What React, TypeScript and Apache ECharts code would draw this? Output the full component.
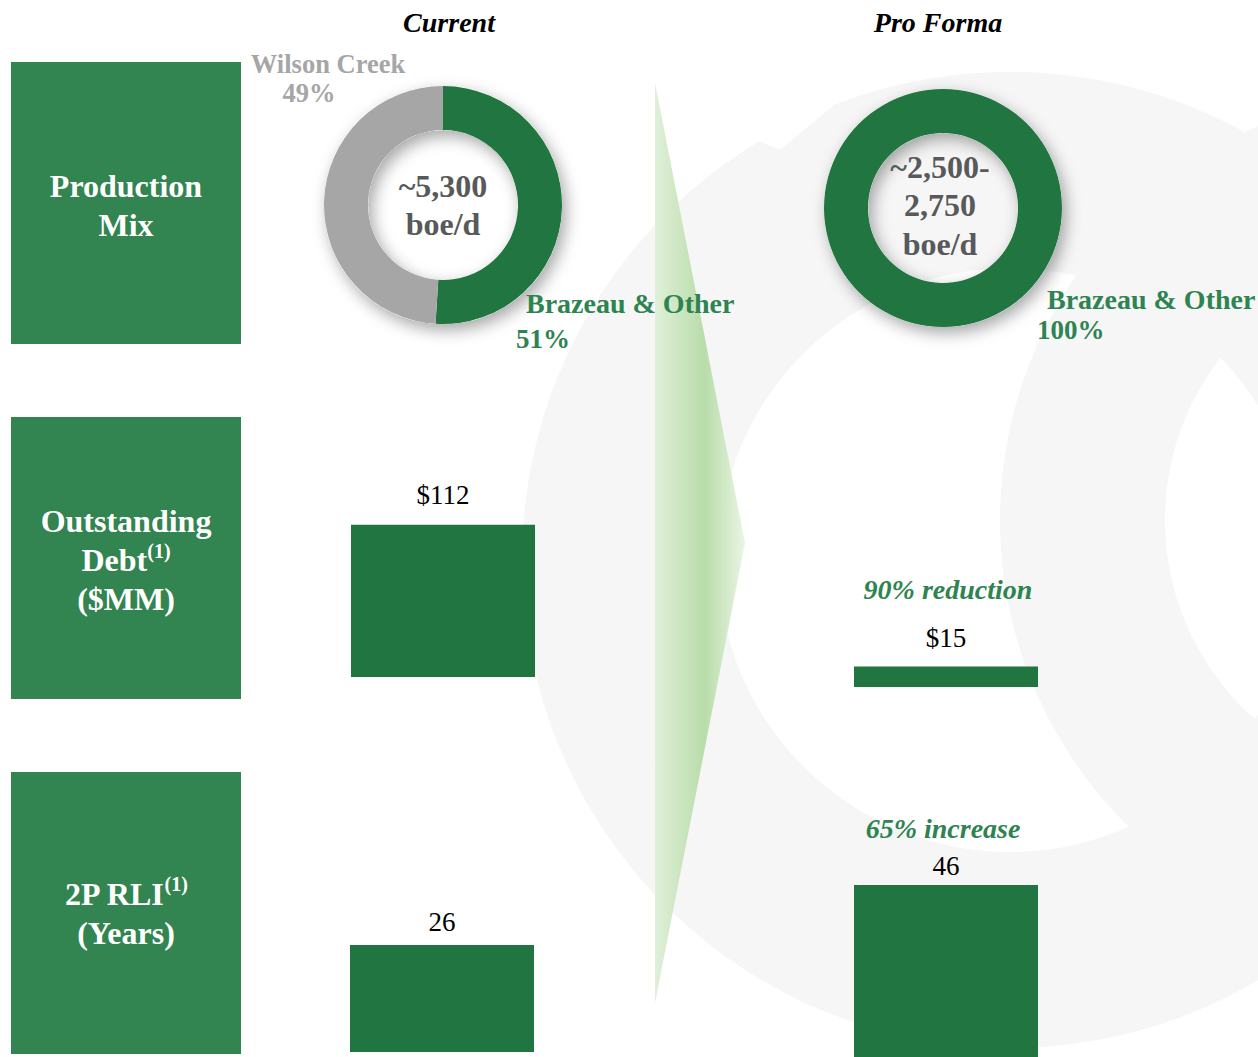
import React, { useEffect, useRef } from "react";
import * as echarts from "echarts";

// ---- data ----
const headers = ["Current", "Pro Forma"];
const rowLabels = ["Production\nMix", "Outstanding\nDebt{sup|(1)}\n($MM)", "2P RLI{sup|(1)}\n(Years)"];
const mixNames = ["Brazeau & Other", "Wilson Creek"];
const mixCurrent = [51, 49];
const mixProForma = [100, 0];
const productionLabels = ["~5,300\nboe/d", "~2,500-\n2,750\nboe/d"];
const debtValues = [112, 15];
const rliValues = [26, 46];
const changeLabels = ["90% reduction", "65% increase"];

const W = 1258;
const H = 1057;
const SERIF = "'Liberation Serif', 'Times New Roman', serif";
const DARK = "#217541";
const BOX = "#328450";
const TXTGREEN = "#2E8450";
const GRAY = "#A6A6A6";
const CENTERGRAY = "#58595B";

export default function App() {
  const ref = useRef<HTMLDivElement>(null);
  useEffect(() => {
    if (!ref.current) return;
    const chart = echarts.init(ref.current, null, { renderer: "svg", width: W, height: H });

    const debtScale = 1.36;
    const rliScale = 4.12;
    const debtMax = 120;
    const rliMax = 50;
    const barDefs = [
      { left: 351, base: 677, max: debtMax, scale: debtScale, v: debtValues[0], fmt: (c: number) => "$" + c, dist: 16 },
      { left: 854, base: 687, max: debtMax, scale: debtScale, v: debtValues[1], fmt: (c: number) => "$" + c, dist: 15 },
      { left: 350, base: 1052, max: rliMax, scale: rliScale, v: rliValues[0], fmt: (c: number) => "" + c, dist: 9 },
      { left: 854, base: 1076, max: rliMax, scale: rliScale, v: rliValues[1], fmt: (c: number) => "" + c, dist: 5 },
    ];

    const grids = barDefs.map((b) => ({
      left: b.left,
      width: 184,
      top: b.base - b.max * b.scale,
      height: b.max * b.scale,
      containLabel: false,
    }));
    const xAxes = barDefs.map((b, i) => ({
      type: "category",
      gridIndex: i,
      data: [headers[i % 2]],
      show: false,
    }));
    const yAxes = barDefs.map((b, i) => ({
      type: "value",
      gridIndex: i,
      min: 0,
      max: b.max,
      show: false,
    }));
    const barSeries = barDefs.map((b, i) => ({
      type: "bar",
      xAxisIndex: i,
      yAxisIndex: i,
      data: [b.v],
      barWidth: 184,
      silent: true,
      itemStyle: { color: DARK },
      label: {
        show: true,
        position: "top",
        distance: b.dist,
        fontFamily: SERIF,
        fontSize: 27,
        color: "#000",
        formatter: (p: any) => b.fmt(p.value),
      },
    }));

    const mkPie = (center: number[], vals: number[]) => ({
      type: "pie",
      center,
      radius: [75, 119],
      startAngle: 90,
      clockwise: true,
      silent: true,
      z: 3,
      label: { show: false },
      labelLine: { show: false },
      data: vals
        .map((v, i) => ({ name: mixNames[i], value: v, itemStyle: { color: i === 0 ? DARK : GRAY } }))
        .filter((d) => d.value > 0),
    });
    const mkShadowPie = (center: number[]) => ({
      type: "pie",
      center,
      radius: [75, 119],
      silent: true,
      z: 2,
      label: { show: false },
      labelLine: { show: false },
      itemStyle: {
        color: "#ffffff",
        shadowBlur: 16,
        shadowColor: "rgba(0,0,0,0.35)",
        shadowOffsetX: 4,
        shadowOffsetY: 6,
      },
      data: [{ value: 1 }],
    });

    const boxes = [62, 417, 772];
    const boxTextY = [205, 560, 913];
    const boxElems: any[] = [];
    boxes.forEach((y, i) => {
      boxElems.push({
        type: "rect",
        z: 5,
        shape: { x: 11, y, width: 230, height: 282 },
        style: { fill: BOX },
      });
      boxElems.push({
        type: "text",
        z: 6,
        x: 126,
        y: boxTextY[i],
        style: {
          text: rowLabels[i],
          fontFamily: SERIF,
          fontWeight: "bold",
          fontSize: 32,
          lineHeight: 39,
          fill: "#ffffff",
          align: "center",
          verticalAlign: "middle",
          rich: {
            sup: {
              fontFamily: SERIF,
              fontWeight: "bold",
              fontSize: 20,
              lineHeight: 39,
              fill: "#ffffff",
              verticalAlign: "top",
              padding: [0, 0, 10, 0],
            },
          },
        },
      });
    });

    const textEl = (text: string, x: number, y: number, o: any) => ({
      type: "text",
      z: 10,
      x,
      y,
      style: {
        text,
        fontFamily: SERIF,
        fontWeight: "bold",
        fontSize: 27,
        lineHeight: 24,
        align: "left",
        verticalAlign: "middle",
        ...o,
      },
    });

    const graphics: any[] = [
      // background faint rings
      { type: "ring", z: -10, shape: { cx: 1010, cy: 560, r: 488, r0: 292 }, style: { fill: "#F6F6F6" } },
      { type: "ring", z: -10, shape: { cx: 1430, cy: 520, r: 430, r0: 265 }, style: { fill: "#F6F6F6" } },
      {
        type: "polygon",
        z: -9,
        shape: { points: [[700, 0], [960, 0], [780, 150], [640, 90]] },
        style: { fill: "#ffffff" },
      },
      // arrow
      {
        type: "polygon",
        z: 1,
        shape: { points: [[655, 83], [745, 543], [655, 1003]] },
        style: {
          fill: new echarts.graphic.LinearGradient(0, 0, 1, 0, [
            { offset: 0, color: "#E0F0D9" },
            { offset: 0.55, color: "#B9DCAA" },
            { offset: 1, color: "#E9F5E5" },
          ]),
        },
      },
      ...boxElems,
      // headers
      textEl(headers[0], 449, 22, { align: "center", fontStyle: "italic", fontSize: 28, fill: "#000" }),
      textEl(headers[1], 938, 22, { align: "center", fontStyle: "italic", fontSize: 28, fill: "#000" }),
      // donut labels
      textEl(mixNames[1], 328, 64, { align: "center", fontSize: 26.5, fill: GRAY }),
      textEl(mixCurrent[1] + "%", 309, 93, { align: "center", fontSize: 26.5, fill: GRAY }),
      textEl(mixNames[0], 526, 303, { fontSize: 28, fill: TXTGREEN }),
      textEl(mixCurrent[0] + "%", 516, 339, { fill: TXTGREEN }),
      textEl(mixNames[0], 1047, 299, { fontSize: 28, fill: TXTGREEN }),
      textEl(mixProForma[0] + "%", 1037, 330, { fill: TXTGREEN }),
      // donut centers
      textEl(productionLabels[0], 443, 205, { align: "center", fontSize: 32, lineHeight: 38, fill: CENTERGRAY }),
      textEl(productionLabels[1], 940, 205, { align: "center", fontSize: 32, lineHeight: 38.5, fill: CENTERGRAY }),
      // change labels
      textEl(changeLabels[0], 948, 589, { align: "center", fontStyle: "italic", fontSize: 28, fill: TXTGREEN }),
      textEl(changeLabels[1], 943, 828, { align: "center", fontStyle: "italic", fontSize: 28, fill: TXTGREEN }),
    ];

    chart.setOption({
      animation: false,
      backgroundColor: "#ffffff",
      graphic: { elements: graphics },
      grid: grids,
      xAxis: xAxes,
      yAxis: yAxes,
      series: [
        mkShadowPie([443, 205]),
        mkPie([443, 205], mixCurrent),
        mkShadowPie([943, 208]),
        mkPie([943, 208], mixProForma),
        ...barSeries,
      ],
    });
    return () => chart.dispose();
  }, []);
  return (
    <div
      ref={ref}
      style={{ position: "absolute", left: 0, top: 0, width: W, height: H }}
    />
  );
}
